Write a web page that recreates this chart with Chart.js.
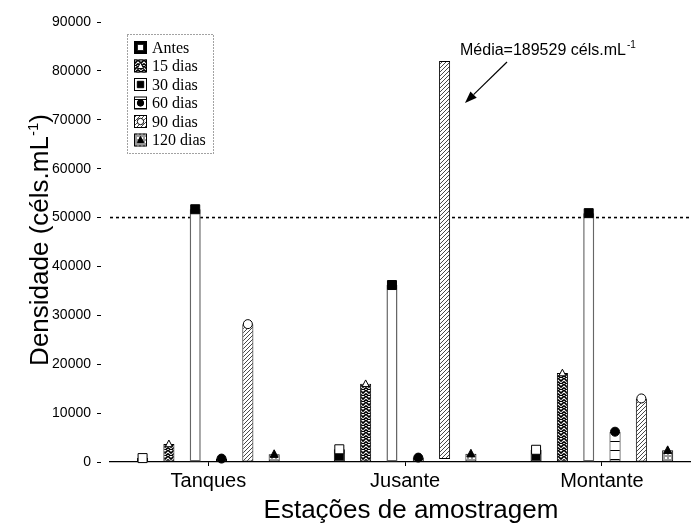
<!DOCTYPE html>
<html>
<head>
<meta charset="utf-8">
<script src="https://cdn.jsdelivr.net/npm/chart.js@4.4.0/dist/chart.umd.min.js"></script>
<style>
html,body{margin:0;padding:0;background:#fff;}
#wrap{width:691px;height:532px;position:relative;}
</style>
</head>
<body>
<div id="wrap"><canvas id="c" width="691" height="532"></canvas></div>
<script>
// ---------- data ----------
const categories = ['Tanques', 'Jusante', 'Montante'];
const seriesNames = ['Antes', '15 dias', '30 dias', '60 dias', '90 dias', '120 dias'];
const antes   = [800, 2600, 2500];
const dias15  = [3700, 16000, 18200];
const dias30  = [51700, 36200, 50900];
const dias60  = [700, 900, 6200];
const dias90  = [28200, [600, 82000], 13000];   // Jusante bar is truncated (mean 189529)
const dias120 = [1600, 1700, 2400];
const yTicks  = [0, 10000, 20000, 30000, 40000, 50000, 60000, 70000, 80000, 90000];
const referenceLine = 50000;
const yTitle = 'Densidade (céls.mL';
const yTitleSup = '-1';
const xTitle = 'Estações de amostragem';
const noteText = 'Média=189529 céls.mL';
const noteSup = '-1';

// ---------- patterns ----------
function mkPattern(w, h, draw) {
  const c = document.createElement('canvas');
  c.width = w; c.height = h;
  const g = c.getContext('2d');
  draw(g, w, h);
  return g.createPattern(c, 'repeat');
}
const patZig = mkPattern(6, 6, (g, w, h) => {
  g.fillStyle = '#fff'; g.fillRect(0, 0, w, h);
  g.strokeStyle = '#000'; g.lineWidth = 1.6;
  g.beginPath();
  g.moveTo(0, 0); g.lineTo(3, 3); g.lineTo(6, 0);
  g.moveTo(0, 3.5); g.lineTo(3, 6.5); g.lineTo(6, 3.5);
  g.stroke();
});
const patHoriz = mkPattern(4, 9, (g, w, h) => {
  g.fillStyle = '#fff'; g.fillRect(0, 0, w, h);
  g.fillStyle = '#000'; g.fillRect(0, 0, w, 1);
});
const patDiag = mkPattern(4, 4, (g, w, h) => {
  g.fillStyle = '#fff'; g.fillRect(0, 0, w, h);
  g.strokeStyle = '#333'; g.lineWidth = 0.9;
  g.beginPath();
  g.moveTo(0, 4); g.lineTo(4, 0);
  g.moveTo(-1, 1); g.lineTo(1, -1);
  g.moveTo(3, 5); g.lineTo(5, 3);
  g.stroke();
});
const patGrid = mkPattern(4, 4, (g, w, h) => {
  g.fillStyle = '#999'; g.fillRect(0, 0, w, h);
  g.fillStyle = '#fff'; g.fillRect(1, 1, 2, 2);
});

// ---------- markers ----------
function drawMarker(ctx, type, x, y, s) {
  ctx.save();
  ctx.lineWidth = 1;
  ctx.strokeStyle = '#000';
  ctx.setLineDash([]);
  ctx.beginPath();
  if (type === 'squareOpen' || type === 'squareFilled') {
    ctx.rect(x - s, y - s, 2 * s, 2 * s);
  } else if (type === 'circleOpen' || type === 'circleFilled') {
    ctx.arc(x, y, s, 0, Math.PI * 2);
  } else if (type === 'triangleOpen' || type === 'triangleFilled') {
    ctx.moveTo(x, y - s * 1.1);
    ctx.lineTo(x + s, y + s * 0.8);
    ctx.lineTo(x - s, y + s * 0.8);
    ctx.closePath();
  }
  ctx.fillStyle = type.endsWith('Open') ? '#fff' : '#000';
  ctx.fill();
  ctx.stroke();
  ctx.restore();
}

const markerPlugin = {
  id: 'barMarkers',
  afterDatasetsDraw(chart) {
    const ctx = chart.ctx;
    chart.data.datasets.forEach((ds, di) => {
      const meta = chart.getDatasetMeta(di);
      meta.data.forEach((el, i) => {
        const raw = ds.data[i];
        if (Array.isArray(raw.y)) return;
        drawMarker(ctx, ds.marker, el.x, el.y, ds.markerSize);
      });
    });
  }
};

const refLinePlugin = {
  id: 'refLine',
  beforeDatasetsDraw(chart) {
    const ctx = chart.ctx, a = chart.chartArea;
    const y = chart.scales.y.getPixelForValue(referenceLine);
    ctx.save();
    ctx.strokeStyle = '#000';
    ctx.lineWidth = 1.6;
    ctx.setLineDash([3, 3]);
    ctx.beginPath();
    ctx.moveTo(a.left, y); ctx.lineTo(a.right, y);
    ctx.stroke();
    ctx.restore();
  }
};

const decorPlugin = {
  id: 'decor',
  afterDraw(chart) {
    const ctx = chart.ctx;
    ctx.save();
    // legend box
    ctx.setLineDash([1, 2]);
    ctx.strokeStyle = '#444';
    ctx.lineWidth = 1;
    ctx.strokeRect(127.5, 34.5, 86, 119);
    ctx.setLineDash([]);
    chart.data.datasets.forEach((ds, i) => {
      const cy = 47.5 + i * 18.5;
      const x0 = 134, s = 13;
      ctx.fillStyle = ds.backgroundColor;
      ctx.fillRect(x0, cy - s / 2, s, s);
      ctx.strokeStyle = '#000';
      ctx.lineWidth = 1;
      ctx.strokeRect(x0 + 0.5, cy - s / 2 + 0.5, s - 1, s - 1);
      drawMarker(ctx, ds.marker, x0 + s / 2, cy, 3.2);
      ctx.fillStyle = '#000';
      ctx.font = '16px "Liberation Serif", "Times New Roman", serif';
      ctx.textBaseline = 'middle';
      ctx.textAlign = 'left';
      ctx.fillText(ds.label, 152, cy + 1);
    });

    // annotation
    ctx.fillStyle = '#000';
    ctx.textBaseline = 'alphabetic';
    ctx.font = '16px "Liberation Sans", Arial, sans-serif';
    ctx.fillText(noteText, 460, 55);
    const nw = ctx.measureText(noteText).width;
    ctx.font = '10px "Liberation Sans", Arial, sans-serif';
    ctx.fillText(noteSup, 460 + nw + 1, 48);
    // arrow
    const x1 = 507, y1 = 62, x2 = 465, y2 = 103;
    const dx = x2 - x1, dy = y2 - y1, L = Math.hypot(dx, dy);
    const ux = dx / L, uy = dy / L;
    const hl = 12, hw = 4.5;
    ctx.strokeStyle = '#000';
    ctx.lineWidth = 1.2;
    ctx.beginPath();
    ctx.moveTo(x1, y1);
    ctx.lineTo(x2 - ux * hl, y2 - uy * hl);
    ctx.stroke();
    ctx.beginPath();
    ctx.moveTo(x2, y2);
    ctx.lineTo(x2 - ux * hl - uy * hw, y2 - uy * hl + ux * hw);
    ctx.lineTo(x2 - ux * hl + uy * hw, y2 - uy * hl - ux * hw);
    ctx.closePath();
    ctx.fill();

    // y title with superscript
    ctx.save();
    ctx.translate(48, 240);
    ctx.rotate(-Math.PI / 2);
    ctx.font = '26px "Liberation Sans", Arial, sans-serif';
    const w1 = ctx.measureText(yTitle).width;
    const w3 = ctx.measureText(')').width;
    ctx.font = '15px "Liberation Sans", Arial, sans-serif';
    const w2 = ctx.measureText(yTitleSup).width;
    let sx = -(w1 + w2 + w3) / 2;
    ctx.font = '26px "Liberation Sans", Arial, sans-serif';
    ctx.fillText(yTitle, sx, 0);
    ctx.font = '15px "Liberation Sans", Arial, sans-serif';
    ctx.fillText(yTitleSup, sx + w1, -10);
    ctx.font = '26px "Liberation Sans", Arial, sans-serif';
    ctx.fillText(')', sx + w1 + w2, 0);
    ctx.restore();

    // x title
    ctx.font = '26px "Liberation Sans", Arial, sans-serif';
    ctx.textAlign = 'center';
    ctx.textBaseline = 'middle';
    ctx.fillText(xTitle, 411, 511);
    ctx.restore();
  }
};

// ---------- datasets ----------
const seriesValues = [antes, dias15, dias30, dias60, dias90, dias120];
const fills = ['#000', patZig, '#fff', patHoriz, patDiag, patGrid];
const borders = ['#000', '#000', '#666', '#000', '#000', '#000'];
const markers = ['squareOpen', 'triangleOpen', 'squareFilled', 'circleFilled', 'circleOpen', 'triangleFilled'];
const markerSizes = [4.5, 3.5, 4.5, 4.5, 4.5, 4];

const datasets = seriesNames.map((name, k) => ({
  label: name,
  data: categories.map((c, i) => ({ x: i + 1, y: seriesValues[k][i] })),
  backgroundColor: fills[k],
  borderColor: borders[k],
  borderWidth: k === 2 ? 1.5 : 1,
  borderSkipped: false,
  barPercentage: 0.42,
  categoryPercentage: 0.8026,
  marker: markers[k],
  markerSize: markerSizes[k]
}));

new Chart(document.getElementById('c'), {
  type: 'bar',
  data: { datasets },
  options: {
    responsive: false,
    animation: false,
    devicePixelRatio: 1,
    layout: { padding: { top: 22, right: 0, bottom: 0, left: 0 } },
    plugins: { legend: { display: false }, tooltip: { enabled: false } },
    scales: {
      x: {
        type: 'linear',
        offset: false,
        min: 0.5,
        max: 3.453,
        afterBuildTicks: s => { s.ticks = categories.map((c, i) => ({ value: i + 1 })); },
        afterFit: s => { s.height = 70; },
        grid: { offset: false, drawOnChartArea: false, drawTicks: true, tickLength: 4, tickColor: '#000', tickWidth: 1 },
        border: { display: true, color: '#000', width: 1.2 },
        ticks: {
          autoSkip: false, maxRotation: 0, padding: 3, color: '#000',
          font: { family: '"Liberation Sans", Arial, sans-serif', size: 20 },
          callback: v => categories[Math.round(v) - 1] || ''
        }
      },
      y: {
        min: 0,
        max: 90000,
        afterBuildTicks: s => { s.ticks = yTicks.map(v => ({ value: v })); },
        afterFit: s => { s.width = 110; },
        grid: { drawOnChartArea: false, drawTicks: true, tickLength: 13, tickBorderDash: [4, 100], tickColor: '#000', tickWidth: 1 },
        border: { display: false },
        ticks: {
          padding: 6, color: '#000',
          font: { family: '"Liberation Sans", Arial, sans-serif', size: 14 },
          callback: v => String(v)
        }
      }
    }
  },
  plugins: [refLinePlugin, markerPlugin, decorPlugin]
});
</script>
</body>
</html>
